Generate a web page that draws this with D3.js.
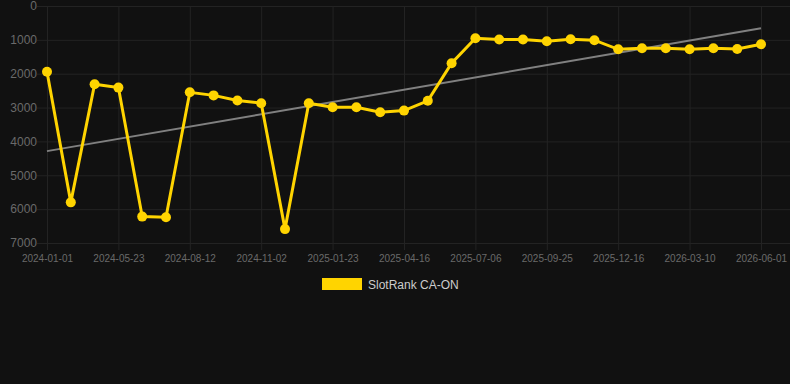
<!DOCTYPE html>
<html>
<head>
<meta charset="utf-8">
<script src="https://cdn.jsdelivr.net/npm/d3@7"></script>
<style>
  html, body { margin: 0; padding: 0; background: #111111; }
  svg { display: block; font-family: "Liberation Sans", Arial, sans-serif; }
</style>
</head>
<body>
<svg id="svg" width="790" height="384"></svg>
<script>
// category dates (only every third one is labelled on the axis)
const dates = [
  '2024-01-01', '2024-02-17', '2024-04-05', '2024-05-23', '2024-06-19', '2024-07-16',
  '2024-08-12', '2024-09-08', '2024-10-06', '2024-11-02', '2024-11-29', '2024-12-27',
  '2025-01-23', '2025-02-19', '2025-03-20', '2025-04-16', '2025-05-13', '2025-06-09',
  '2025-07-06', '2025-08-02', '2025-08-29', '2025-09-25', '2025-10-22', '2025-11-19',
  '2025-12-16', '2026-01-12', '2026-02-11', '2026-03-10', '2026-04-06', '2026-05-04',
  '2026-06-01'
];
const rank = [
  1940, 5800, 2310, 2410, 6220, 6240, 2550, 2640, 2790, 2870, 6590, 2870,
  2990, 2990, 3140, 3090, 2800, 1690, 955, 990, 990, 1040, 980, 1010,
  1280, 1250, 1250, 1280, 1250, 1270, 1130
];
const yTicks = [0, 1000, 2000, 3000, 4000, 5000, 6000, 7000];
const seriesName = 'SlotRank CA-ON';

const svg = d3.select('#svg');
const padL = 47, padR = 761, padT = 6, padB = 243;

const x = d3.scalePoint().domain(dates).range([padL, padR]);
const y = d3.scaleLinear().domain([0, 7000]).range([padT, padB]);

const gridColor = '#232323';
const labelColor = '#6a6a6a';

// horizontal grid + y labels
const yAxis = svg.append('g').attr('transform', 'translate(' + padL + ',0)')
  .call(d3.axisLeft(y).tickValues(yTicks).tickSize(10).tickPadding(0).tickFormat(d3.format('d')));
yAxis.select('.domain').remove();
yAxis.selectAll('line').attr('stroke', gridColor)
  .clone().attr('x1', 0).attr('x2', 790 - padL);
yAxis.selectAll('text').attr('fill', labelColor).style('font-size', '12px');

// vertical grid + x labels
const xLabels = dates.filter((d, i) => i % 3 === 0);
const xAxis = svg.append('g').attr('transform', 'translate(0,' + padB + ')')
  .call(d3.axisBottom(x).tickValues(xLabels).tickSize(7).tickPadding(5));
xAxis.select('.domain').remove();
xAxis.selectAll('line').attr('stroke', gridColor)
  .clone().attr('y1', 0).attr('y2', padT - padB);
xAxis.selectAll('text').attr('fill', labelColor).style('font-size', '10px');

// trend line (least squares on index)
const n = rank.length;
const mx = d3.mean(rank, (d, i) => i), my = d3.mean(rank);
const slope = d3.sum(rank, (d, i) => (i - mx) * (d - my)) / d3.sum(rank, (d, i) => (i - mx) * (i - mx));
const icpt = my - slope * mx;
svg.append('line')
  .attr('x1', x(dates[0])).attr('y1', y(icpt))
  .attr('x2', x(dates[n - 1])).attr('y2', y(icpt + slope * (n - 1)))
  .attr('stroke', '#808080').attr('stroke-width', 2);

// series
const gold = '#ffd400';
svg.append('path')
  .datum(rank)
  .attr('fill', 'none')
  .attr('stroke', gold)
  .attr('stroke-width', 3)
  .attr('stroke-linejoin', 'miter')
  .attr('d', d3.line().x((d, i) => x(dates[i])).y(d => y(d)));

svg.selectAll('circle.pt')
  .data(rank)
  .enter()
  .append('circle')
  .attr('class', 'pt')
  .attr('cx', (d, i) => x(dates[i]))
  .attr('cy', d => y(d))
  .attr('r', 5)
  .attr('fill', gold);

// legend
const legend = svg.append('g').attr('transform', 'translate(322,278)');
legend.append('rect').attr('width', 40).attr('height', 12).attr('fill', gold);
legend.append('text').attr('x', 46).attr('y', 10.5)
  .attr('fill', '#cccccc').style('font-size', '12px').text(seriesName);
</script>
</body>
</html>
